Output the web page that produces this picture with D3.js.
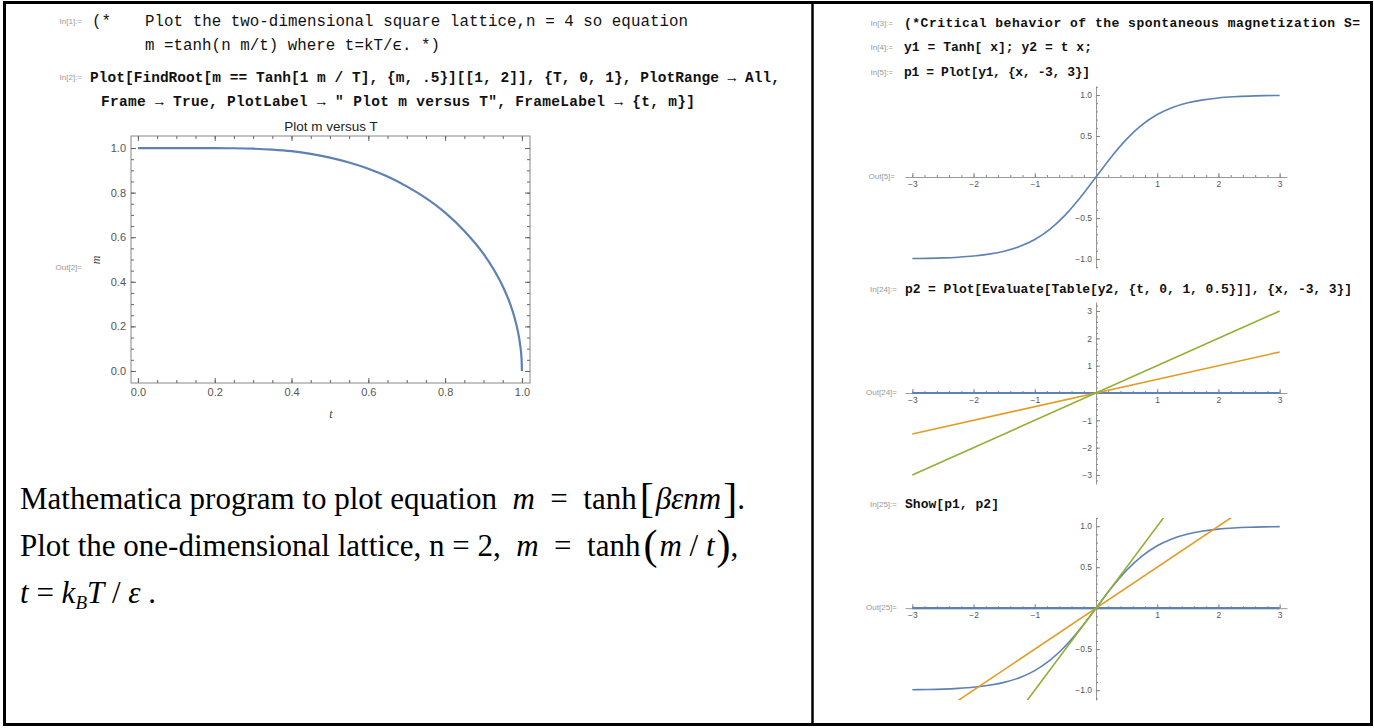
<!DOCTYPE html>
<html lang="en">
    <head>
        <meta charset="utf-8">
        <title>Mean field magnetization</title>
        <script src="https://d3js.org/d3.v7.min.js"></script>
        <style>
            body { margin: 0; background: #fff; }
            .tick text { fill: #555; font-family: "Liberation Sans", Arial, sans-serif; }
            .code { font-family: "Liberation Mono", "Courier New", monospace; fill: #111; }
            .lbl { font-family: "Liberation Sans", Arial, sans-serif; fill: #999; font-size: 8px; }
            .prose { font-family: "Liberation Serif", "Times New Roman", serif; fill: #000; font-size: 31px; }
        </style>
    </head>
    <body>
        <script type="text/javascript">
            var width = 1374, height = 728;

            // m = tanh(m / t)
            var tValues = [0, 0.1, 0.2, 0.25, 0.3, 0.35, 0.4, 0.45, 0.5, 0.55, 0.6, 0.65, 0.7, 0.75, 0.8, 0.85, 0.9, 0.93, 0.95, 0.97, 0.98, 0.99, 0.995, 0.999, 1.0];
            var mValues = [1, 1, 1, 0.999, 0.997, 0.993, 0.986, 0.974, 0.957, 0.935, 0.907, 0.872, 0.828, 0.775, 0.710, 0.628, 0.525, 0.445, 0.380, 0.298, 0.244, 0.173, 0.122, 0.055, 0];

            // y1 = Tanh[x]
            var tanhX = [-3, -2.75, -2.5, -2.25, -2, -1.75, -1.5, -1.25, -1, -0.75, -0.5, -0.25, 0, 0.25, 0.5, 0.75, 1, 1.25, 1.5, 1.75, 2, 2.25, 2.5, 2.75, 3];
            var tanhY = [-0.995, -0.992, -0.987, -0.978, -0.964, -0.941, -0.905, -0.848, -0.762, -0.635, -0.462, -0.245, 0, 0.245, 0.462, 0.635, 0.762, 0.848, 0.905, 0.941, 0.964, 0.978, 0.987, 0.992, 0.995];

            // y2 = t x for t = 0, 0.5, 1
            var lineT = [0, 0.5, 1];
            var lineX = [-3, 3];
            var lineY = [[0, 0], [-1.5, 1.5], [-3, 3]];
            var lineColors = ["#5e81b5", "#e19c24", "#8fb032"];

            var leftTicks = [0, 0.2, 0.4, 0.6, 0.8, 1.0];
            var rightXTicks = [-3, -2, -1, 1, 2, 3];
            var halfTicks = [-1, -0.5, 0.5, 1];
            var unitTicks = [-3, -2, -1, 1, 2, 3];

            var svg = d3.select("body")
                .append("svg")
                .attr("width", width)
                .attr("height", height);

            // outer box and divider
            svg.append("rect")
                .attr("x", 4.5).attr("y", 2.5)
                .attr("width", 1367).attr("height", 722)
                .attr("fill", "none").attr("stroke", "#000").attr("stroke-width", 3);
            svg.append("line")
                .attr("x1", 812.5).attr("x2", 812.5).attr("y1", 2).attr("y2", 725)
                .attr("stroke", "#000").attr("stroke-width", 2.5);

            function label(x, y, s) {
                svg.append("text").attr("class", "lbl")
                    .attr("x", x).attr("y", y).attr("text-anchor", "end")
                    .attr("dominant-baseline", "middle").text(s);
            }
            function code(x, y, s, size, weight, len) {
                var t = svg.append("text").attr("class", "code")
                    .attr("x", x).attr("y", y)
                    .attr("dominant-baseline", "middle")
                    .attr("font-size", size).attr("font-weight", weight)
                    .text(s);
                if (len) t.attr("textLength", len).attr("lengthAdjust", "spacing");
            }

            // ---- left panel: code cells ----
            label(82, 22, "In[1]:=");
            code(92, 22, "(*", 15.8, "normal");
            code(145, 22, "Plot the two-dimensional square lattice,n = 4 so equation", 15.8, "normal", 543);
            code(145, 46, "m =tanh(n m/t) where t=kT/\u03f5. *)", 15.8, "normal", 295);
            label(82, 78, "In[2]:=");
            code(90, 78, "Plot[FindRoot[m == Tanh[1 m / T], {m, .5}][[1, 2]], {T, 0, 1}, PlotRange \u2192 All,", 14.5, "bold", 690);
            code(101, 102, "Frame \u2192 True, PlotLabel \u2192 \" Plot m versus T\", FrameLabel \u2192 {t, m}]", 14.5, "bold", 594);

            // ---- left panel: framed plot ----
            var xL = d3.scaleLinear().domain([-0.018, 1.021]).range([131, 530]);
            var yL = d3.scaleLinear().domain([-0.054, 1.054]).range([383, 136]);
            var minorL = d3.range(0, 1.001, 0.05);
            var fmt1 = d3.format(".1f");

            var gL = svg.append("g");
            gL.append("rect")
                .attr("x", 131).attr("y", 136).attr("width", 399).attr("height", 247)
                .attr("fill", "none").attr("stroke", "#888").attr("stroke-width", 1);

            function frameAxis(axisFn, scale, tx, ty, vals, size, fmt) {
                var a = axisFn(scale).tickValues(vals).tickSize(size).tickSizeOuter(0).tickPadding(5);
                a.tickFormat(fmt ? fmt : "");
                var g = gL.append("g").attr("transform", "translate(" + tx + "," + ty + ")").call(a);
                g.select(".domain").remove();
                g.selectAll(".tick line").attr("stroke", "#666");
                g.selectAll(".tick text").attr("font-size", 11);
                return g;
            }
            frameAxis(d3.axisBottom, xL, 0, 383, leftTicks, -5, fmt1);
            frameAxis(d3.axisBottom, xL, 0, 383, minorL, -3);
            frameAxis(d3.axisTop, xL, 0, 136, leftTicks, -5);
            frameAxis(d3.axisTop, xL, 0, 136, minorL, -3);
            frameAxis(d3.axisLeft, yL, 131, 0, leftTicks, -5, fmt1);
            frameAxis(d3.axisLeft, yL, 131, 0, minorL, -3);
            frameAxis(d3.axisRight, yL, 530, 0, leftTicks, -5);
            frameAxis(d3.axisRight, yL, 530, 0, minorL, -3);

            gL.append("path")
                .datum(d3.zip(tValues, mValues))
                .attr("fill", "none")
                .attr("stroke", lineColors[0])
                .attr("stroke-width", 2.2)
                .attr("d", d3.line()
                    .x(function (d) { return xL(d[0]); })
                    .y(function (d) { return yL(d[1]); })
                    .curve(d3.curveMonotoneX));

            gL.append("text")
                .attr("x", 331).attr("y", 131).attr("text-anchor", "middle")
                .attr("font-family", "Liberation Sans, Arial, sans-serif")
                .attr("font-size", 13.5).attr("fill", "#222")
                .text("Plot m versus T");
            gL.append("text")
                .attr("x", 331).attr("y", 418).attr("text-anchor", "middle")
                .attr("font-family", "Liberation Serif, serif").attr("font-style", "italic")
                .attr("font-size", 12).attr("fill", "#444")
                .text("t");
            gL.append("text")
                .attr("transform", "translate(100,260) rotate(-90)")
                .attr("text-anchor", "middle")
                .attr("font-family", "Liberation Serif, serif").attr("font-style", "italic")
                .attr("font-size", 12).attr("fill", "#444")
                .text("m");
            label(82, 268, "Out[2]=");

            // ---- left panel: prose ----
            var gap = "\u2002";
            var p1 = svg.append("text").attr("class", "prose").attr("x", 20).attr("y", 509);
            p1.append("tspan").text("Mathematica program to plot equation\u00a0 ");
            p1.append("tspan").attr("font-style", "italic").text("m");
            p1.append("tspan").text(gap + "=" + gap + "tanh");
            p1.append("tspan").attr("font-size", 42).attr("dx", 3).attr("dy", 3).text("[");
            p1.append("tspan").attr("font-style", "italic").attr("dx", 2).attr("dy", -3).text("\u03b2\u03b5nm");
            p1.append("tspan").attr("font-size", 42).attr("dx", 2).attr("dy", 3).text("]");
            p1.append("tspan").attr("dy", -3).text(".");

            var p2 = svg.append("text").attr("class", "prose").attr("x", 20).attr("y", 556);
            p2.append("tspan").text("Plot the one-dimensional lattice, n = 2,\u00a0 ");
            p2.append("tspan").attr("font-style", "italic").text("m");
            p2.append("tspan").text(gap + "=" + gap + "tanh");
            p2.append("tspan").attr("font-size", 42).attr("dx", 3).attr("dy", 3).text("(");
            p2.append("tspan").attr("font-style", "italic").attr("dx", 2).attr("dy", -3).text("m");
            p2.append("tspan").text(" / ");
            p2.append("tspan").attr("font-style", "italic").text("t");
            p2.append("tspan").attr("font-size", 42).attr("dx", 2).attr("dy", 3).text(")");
            p2.append("tspan").attr("dy", -3).text(",");

            var p3 = svg.append("text").attr("class", "prose").attr("x", 20).attr("y", 603);
            p3.append("tspan").attr("font-style", "italic").text("t");
            p3.append("tspan").text(" = ");
            p3.append("tspan").attr("font-style", "italic").text("k");
            p3.append("tspan").attr("font-style", "italic").attr("font-size", 19).attr("dy", 6).text("B");
            p3.append("tspan").attr("font-style", "italic").attr("dy", -6).text("T");
            p3.append("tspan").text(" / ");
            p3.append("tspan").attr("font-style", "italic").text("\u03b5");
            p3.append("tspan").text(" .");

            // ---- right panel: code cells ----
            label(893, 24, "In[3]:=");
            code(904, 24, "(*Critical behavior of the spontaneous magnetization S=", 13, "bold", 456);
            label(893, 48, "In[4]:=");
            code(904, 48, "y1 = Tanh[ x]; y2 = t x;", 13, "bold", 188);
            label(893, 73, "In[5]:=");
            code(904, 73, "p1 = Plot[y1, {x, -3, 3}]", 13, "bold", 186);
            label(897, 290, "In[24]:=");
            code(905, 290, "p2 = Plot[Evaluate[Table[y2, {t, 0, 1, 0.5}]], {x, -3, 3}]", 13, "bold", 447);
            label(897, 505, "In[25]:=");
            code(905, 505, "Show[p1, p2]", 13, "bold", 94);

            // ---- right panel: axis plots ----
            var xR = d3.scaleLinear().domain([-3.12, 3.12]).range([905, 1287]);
            var minorX = d3.range(-3, 3.001, 0.2);
            var fmtR = function (d) { return d3.format(".1f")(d).replace("-", "\u2212"); };
            var fmtI = function (d) { return String(d).replace("-", "\u2212"); };

            function axesPlot(yScale, yTicks, yMinor, yFmt, clipId) {
                var g = svg.append("g");
                var y0 = yScale(0), x0 = xR(0);

                var ax = g.append("g").attr("transform", "translate(0," + y0 + ")")
                    .call(d3.axisBottom(xR).tickValues(rightXTicks).tickSize(-4).tickSizeOuter(0).tickPadding(4).tickFormat(fmtI));
                g.append("g").attr("transform", "translate(0," + y0 + ")")
                    .call(d3.axisBottom(xR).tickValues(minorX).tickSize(-2).tickSizeOuter(0).tickFormat(""))
                    .select(".domain").remove();
                ax.select(".domain").attr("stroke", "#999");

                var ay = g.append("g").attr("transform", "translate(" + x0 + ",0)")
                    .call(d3.axisLeft(yScale).tickValues(yTicks).tickSize(-4).tickSizeOuter(0).tickPadding(4).tickFormat(yFmt));
                g.append("g").attr("transform", "translate(" + x0 + ",0)")
                    .call(d3.axisLeft(yScale).tickValues(yMinor).tickSize(-2).tickSizeOuter(0).tickFormat(""))
                    .select(".domain").remove();
                ay.select(".domain").attr("stroke", "#999");

                g.selectAll(".tick line").attr("stroke", "#888");
                g.selectAll(".tick text").attr("font-size", 8.5);

                var r = yScale.range();
                g.append("clipPath").attr("id", clipId)
                    .append("rect")
                    .attr("x", 905).attr("y", r[1])
                    .attr("width", 382).attr("height", r[0] - r[1]);
                return g.append("g").attr("clip-path", "url(#" + clipId + ")");
            }

            function drawTanh(g, yScale) {
                g.append("path")
                    .datum(d3.zip(tanhX, tanhY))
                    .attr("fill", "none").attr("stroke", lineColors[0]).attr("stroke-width", 1.6)
                    .attr("d", d3.line()
                        .x(function (d) { return xR(d[0]); })
                        .y(function (d) { return yScale(d[1]); })
                        .curve(d3.curveMonotoneX));
            }
            function drawLines(g, yScale) {
                lineT.forEach(function (t, i) {
                    g.append("path")
                        .datum(d3.zip(lineX, lineY[i]))
                        .attr("fill", "none").attr("stroke", lineColors[i])
                        .attr("stroke-width", i === 0 ? 2.2 : 1.6)
                        .attr("d", d3.line()
                            .x(function (d) { return xR(d[0]); })
                            .y(function (d) { return yScale(d[1]); }));
                });
            }

            // Out[5]: tanh
            var yP1 = d3.scaleLinear().domain([-1.11, 1.11]).range([268, 86]);
            var c1 = axesPlot(yP1, halfTicks, d3.range(-1.1, 1.101, 0.1), fmtR, "clip1");
            drawTanh(c1, yP1);
            label(895, 177, "Out[5]=");

            // Out[24]: straight lines
            var yP2 = d3.scaleLinear().domain([-3.33, 3.33]).range([484, 302]);
            var c2 = axesPlot(yP2, unitTicks, d3.range(-3.2, 3.201, 0.2), fmtI, "clip2");
            drawLines(c2, yP2);
            label(897, 393, "Out[24]=");

            // Out[25]: both together
            var yP3 = d3.scaleLinear().domain([-1.12, 1.10]).range([700, 518]);
            var c3 = axesPlot(yP3, halfTicks, d3.range(-1.1, 1.101, 0.1), fmtR, "clip3");
            drawTanh(c3, yP3);
            drawLines(c3, yP3);
            label(897, 608, "Out[25]=");
        </script>
    </body>
</html>
